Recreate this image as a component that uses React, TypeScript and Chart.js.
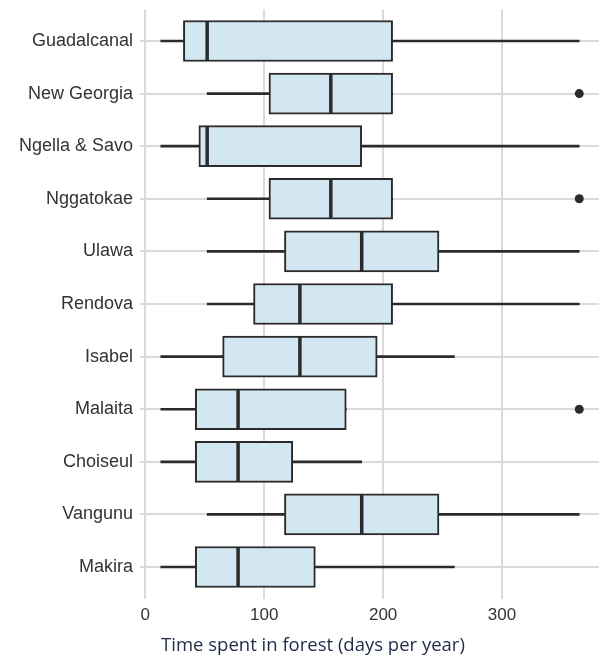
import React, { useEffect, useRef } from 'react';
import { Chart, registerables } from 'chart.js';

Chart.register(...registerables);

const categories = [
  'Guadalcanal',
  'New Georgia',
  'Ngella & Savo',
  'Nggatokae',
  'Ulawa',
  'Rendova',
  'Isabel',
  'Malaita',
  'Choiseul',
  'Vangunu',
  'Makira',
];
const whiskerLow = [13, 52, 13, 52, 52, 52, 13, 13, 13, 52, 13];
const q1 = [32, 104, 45, 104, 117, 91, 65, 42, 42, 117, 42];
const median = [52, 156, 52, 156, 182, 130, 130, 78, 78, 182, 78];
const q3 = [208, 208, 182, 208, 247, 208, 195, 169, 124, 247, 143];
const whiskerHigh = [365, 208, 365, 208, 365, 365, 260, 169, 182, 365, 260];
const outlierCategory = ['New Georgia', 'Nggatokae', 'Malaita'];
const outlierValue = [365, 365, 365];
const xTicks = [0, 100, 200, 300];
const xTitle = 'Time spent in forest (days per year)';

export default function App() {
  const ref = useRef<HTMLCanvasElement>(null);

  useEffect(() => {
    document.body.style.margin = '0';
    const canvas = ref.current;
    if (!canvas) return;
    const idx = categories.map((_, i) => i);
    const dark = '#2b2b2b';
    const grid = '#dadada';
    const chart = new Chart(canvas, {
      type: 'bar',
      data: {
        datasets: [
          {
            type: 'bar',
            indexAxis: 'y',
            data: idx.map((i) => ({ y: i, x: [whiskerLow[i], whiskerHigh[i]] })),
            backgroundColor: dark,
            borderWidth: 0,
            barThickness: 2,
            grouped: false,
            order: 3,
          } as any,
          {
            type: 'bar',
            indexAxis: 'y',
            data: idx.map((i) => ({ y: i, x: [q1[i], q3[i]] })),
            backgroundColor: '#d3e7f2',
            borderColor: dark,
            borderWidth: 2,
            borderSkipped: false,
            barThickness: 41,
            grouped: false,
            order: 2,
          } as any,
          {
            type: 'scatter',
            data: idx.map((i) => ({ x: median[i], y: i })),
            pointStyle: 'line',
            pointRotation: 90,
            pointRadius: 20,
            pointHoverRadius: 20,
            pointBorderColor: dark,
            pointBorderWidth: 3.5,
            clip: false,
            order: 1,
          } as any,
          {
            type: 'scatter',
            data: outlierCategory.map((c, k) => ({ x: outlierValue[k], y: categories.indexOf(c) })),
            pointStyle: 'circle',
            pointRadius: 4.5,
            pointHoverRadius: 4.5,
            pointBackgroundColor: dark,
            pointBorderColor: dark,
            pointBorderWidth: 0,
            order: 0,
          } as any,
        ],
      },
      options: {
        responsive: false,
        animation: false,
        layout: { autoPadding: false, padding: { left: 0, top: 9.4, right: 0, bottom: 28.4 } },
        plugins: {
          legend: { display: false },
          tooltip: { enabled: false },
        },
        scales: {
          x: {
            type: 'linear',
            offset: false,
            min: -4.5,
            max: 381.6,
            afterBuildTicks: (s: any) => {
              s.ticks = xTicks.map((v) => ({ value: v }));
            },
            afterFit: (s: any) => {
              s.height = 30;
              s.paddingLeft = 0;
              s.paddingRight = 0;
            },
            grid: { color: grid, lineWidth: 2, drawTicks: false, offset: false },
            border: { display: false },
            ticks: {
              padding: 7,
              color: '#333333',
              font: { family: 'Liberation Sans', size: 17 },
            },
          },
          y: {
            type: 'linear',
            offset: false,
            reverse: true,
            min: -0.6,
            max: 10.6,
            afterBuildTicks: (s: any) => {
              s.ticks = categories.map((_, i) => ({ value: i }));
            },
            afterFit: (s: any) => {
              s.width = 140;
              s.paddingTop = 0;
              s.paddingBottom = 0;
            },
            grid: { color: grid, lineWidth: 2, drawTicks: false, offset: false },
            border: { display: false },
            ticks: {
              autoSkip: false,
              padding: 7,
              color: '#333333',
              font: { family: 'Liberation Sans', size: 18 },
              callback: (v: any) => categories[v as number],
            },
          },
        },
      } as any,
    });
    return () => chart.destroy();
  }, []);

  return (
    <div style={{ position: 'absolute', left: 0, top: 0, width: 599, height: 657 }}>
      <canvas ref={ref} width={599} height={657} style={{ width: 599, height: 657, display: 'block' }} />
      <div
        style={{
          position: 'absolute',
          left: 0,
          width: 626,
          top: 633,
          lineHeight: '22px',
          textAlign: 'center',
          fontFamily: '"Open Sans", sans-serif',
          fontSize: 18.5,
          color: '#1e2a46',
          whiteSpace: 'nowrap',
        }}
      >
        {xTitle}
      </div>
    </div>
  );
}
